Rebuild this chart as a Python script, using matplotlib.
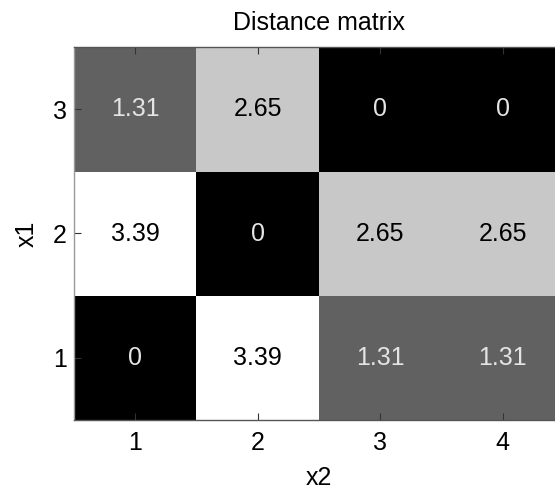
import matplotlib
matplotlib.use("Agg")
import matplotlib.pyplot as plt
import numpy as np

plt.rcParams['font.family'] = ['Liberation Sans', 'DejaVu Sans']

# distance matrix, rows indexed by x1 (1..3), columns by x2 (1..4)
x2_labels = [1, 2, 3, 4]
x1_labels = [1, 2, 3]
row_x1_1 = [0, 3.39, 1.31, 1.31]
row_x1_2 = [3.39, 0, 2.65, 2.65]
row_x1_3 = [1.31, 2.65, 0, 0]

D = np.array([row_x1_1, row_x1_2, row_x1_3])

fig = plt.figure(figsize=(5.55, 4.94), dpi=100)
ax = fig.add_axes([74 / 555, 74 / 494, 490 / 555, 373 / 494])

ax.imshow(D, cmap='gray', origin='lower', aspect='auto',
          vmin=D.min(), vmax=D.max(), interpolation='nearest',
          extent=[0.5, len(x2_labels) + 0.5, 0.5, len(x1_labels) + 0.5])

fs = 18
vmax = D.max()
for i, y in enumerate(x1_labels):
    for j, x in enumerate(x2_labels):
        v = D[i, j]
        txt = '0' if v == 0 else f'{v:.2f}'
        col = '#e4e4e4' if v / vmax < 0.5 else 'black'
        ax.text(x, y, txt, ha='center', va='center', color=col, fontsize=fs)

ax.set_xticks(x2_labels)
ax.set_yticks(x1_labels)
ax.set_xticklabels([str(v) for v in x2_labels])
ax.set_yticklabels([str(v) for v in x1_labels])
ax.tick_params(direction='in', length=5, width=0.8, top=True, right=True,
               labelsize=fs, color='#333333')
ax.tick_params(axis='x', pad=8)
ax.tick_params(axis='y', pad=5)
ax.set_xlabel('x2', fontsize=fs, labelpad=8)
ax.set_ylabel('x1', fontsize=fs, labelpad=10)
ax.set_title('Distance matrix', fontsize=fs, pad=12)
for s in ax.spines.values():
    s.set_color('#555555')
    s.set_linewidth(1.0)
ax.spines['left'].set_color('#999999')

fig.savefig('out.png', dpi=100)
